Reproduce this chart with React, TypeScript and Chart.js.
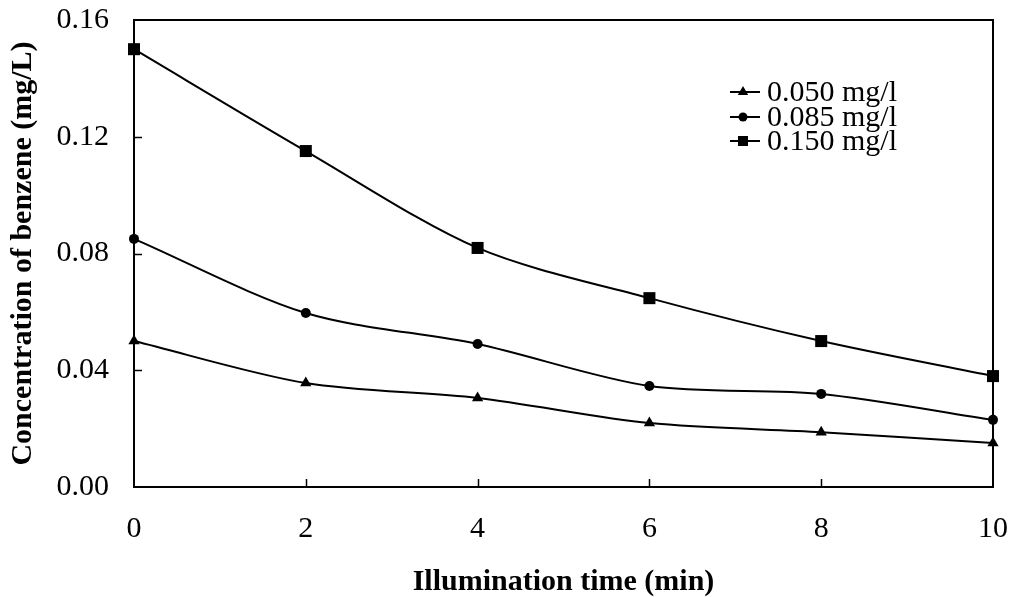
import React, { useEffect, useRef } from "react";
import { Chart, registerables } from "chart.js";

Chart.register(...registerables);

const times = [0, 2, 4, 6, 8, 10];
const series050 = [0.05, 0.0356, 0.0305, 0.0219, 0.0188, 0.0151];
const series085 = [0.085, 0.0596, 0.049, 0.0346, 0.0319, 0.023];
const series150 = [0.15, 0.1151, 0.0819, 0.0647, 0.05, 0.038];
const seriesLabels = ["0.050 mg/l", "0.085 mg/l", "0.150 mg/l"];
const pointStyles = ["triangle", "circle", "rect"];
const pointRadii = [6.5, 5, 8.5];
const xTicks = [0, 2, 4, 6, 8, 10];
const yTicks = [0, 0.04, 0.08, 0.12, 0.16];

const FONT = "'Liberation Serif', 'Times New Roman', serif";

const frameAndTicks = {
  id: "frameAndTicks",
  beforeDatasetsDraw(chart: any) {
    const { ctx, chartArea } = chart;
    const xs = chart.scales.x;
    const ys = chart.scales.y;
    ctx.save();
    ctx.strokeStyle = "#000";
    ctx.lineWidth = 2;
    ctx.strokeRect(chartArea.left, chartArea.top, chartArea.right - chartArea.left, chartArea.bottom - chartArea.top);
    ctx.lineWidth = 1.5;
    ctx.beginPath();
    for (const v of yTicks.slice(1, -1)) {
      const y = Math.round(ys.getPixelForValue(v)) + 0.5;
      ctx.moveTo(chartArea.left, y);
      ctx.lineTo(chartArea.left + 8, y);
    }
    for (const v of xTicks.slice(1, -1)) {
      const x = Math.round(xs.getPixelForValue(v)) + 0.5;
      ctx.moveTo(x, chartArea.bottom);
      ctx.lineTo(x, chartArea.bottom - 8);
    }
    ctx.stroke();
    ctx.restore();
  },
};

const customLegend = {
  id: "customLegend",
  afterDraw(chart: any) {
    const { ctx } = chart;
    ctx.save();
    const rows = [92, 117, 141];
    const mx = 743;
    chart.data.datasets.forEach((ds: any, i: number) => {
      const y = rows[i];
      ctx.strokeStyle = "#000";
      ctx.lineWidth = 2;
      ctx.beginPath();
      ctx.moveTo(730, y);
      ctx.lineTo(760, y);
      ctx.stroke();
      ctx.fillStyle = "#000";
      if (ds.pointStyle === "triangle") {
        const r = 6;
        ctx.beginPath();
        ctx.moveTo(mx, y - r);
        ctx.lineTo(mx + r * 0.87, y + r * 0.5);
        ctx.lineTo(mx - r * 0.87, y + r * 0.5);
        ctx.closePath();
        ctx.fill();
      } else if (ds.pointStyle === "circle") {
        ctx.beginPath();
        ctx.arc(mx, y, 4.5, 0, Math.PI * 2);
        ctx.fill();
      } else {
        ctx.fillRect(mx - 5, y - 5, 10, 10);
      }
      ctx.font = `30px ${FONT}`;
      ctx.textBaseline = "middle";
      ctx.textAlign = "left";
      ctx.fillText(ds.label, 767, y + 1);
    });
    ctx.restore();
  },
};

export default function App() {
  const ref = useRef<HTMLCanvasElement>(null);
  useEffect(() => {
    if (!ref.current) return;
    const all = [series050, series085, series150];
    const chart = new Chart(ref.current, {
      type: "line",
      data: {
        datasets: all.map((vals, i) => ({
          label: seriesLabels[i],
          data: times.map((t, j) => ({ x: t, y: vals[j] })),
          borderColor: "#000",
          backgroundColor: "#000",
          borderWidth: 2,
          pointStyle: pointStyles[i] as any,
          pointRadius: pointRadii[i],
          pointBackgroundColor: "#000",
          pointBorderWidth: 0,
          tension: 0.3,
          fill: false,
          clip: false as any,
        })),
      },
      options: {
        animation: false,
        responsive: false,
        maintainAspectRatio: false,
        layout: { padding: { top: 20, right: 18, left: 0, bottom: 0 } },
        plugins: { legend: { display: false }, tooltip: { enabled: false } },
        scales: {
          x: {
            type: "linear",
            min: 0,
            max: 10,
            afterBuildTicks: (s: any) => {
              s.ticks = xTicks.map((v) => ({ value: v }));
            },
            afterFit: (s: any) => {
              s.height = 110;
              s.paddingLeft = 0;
              s.paddingRight = 0;
            },
            grid: { display: false, drawTicks: false },
            border: { display: false },
            ticks: {
              color: "#000",
              font: { family: FONT, size: 30 },
              padding: 24,
              maxRotation: 0,
              callback: (v: any) => String(v),
            },
            title: {
              display: true,
              text: "Illumination time (min)",
              color: "#000",
              font: { family: FONT, size: 30, weight: "bold", lineHeight: 1 },
              padding: { top: 0, bottom: 0 },
            },
          },
          y: {
            type: "linear",
            min: 0,
            max: 0.16,
            afterBuildTicks: (s: any) => {
              s.ticks = yTicks.map((v) => ({ value: v }));
            },
            afterFit: (s: any) => {
              s.width = 134;
              s.paddingTop = 0;
              s.paddingBottom = 0;
            },
            grid: { display: false, drawTicks: false },
            border: { display: false },
            ticks: {
              color: "#000",
              font: { family: FONT, size: 30 },
              padding: 25,
              callback: (v: any) => Number(v).toFixed(2),
            },
            title: {
              display: true,
              text: "Concentration of benzene (mg/L)",
              color: "#000",
              font: { family: FONT, size: 30, weight: "bold", lineHeight: 1 },
              padding: { top: 8, bottom: 0 },
            },
          },
        },
      },
      plugins: [frameAndTicks, customLegend],
    });
    return () => chart.destroy();
  }, []);
  return (
    <div style={{ position: "absolute", left: 0, top: 0, width: 1011, height: 597, background: "#fff", overflow: "hidden" }}>
      <canvas ref={ref} width={1011} height={597} style={{ display: "block" }} />
    </div>
  );
}
